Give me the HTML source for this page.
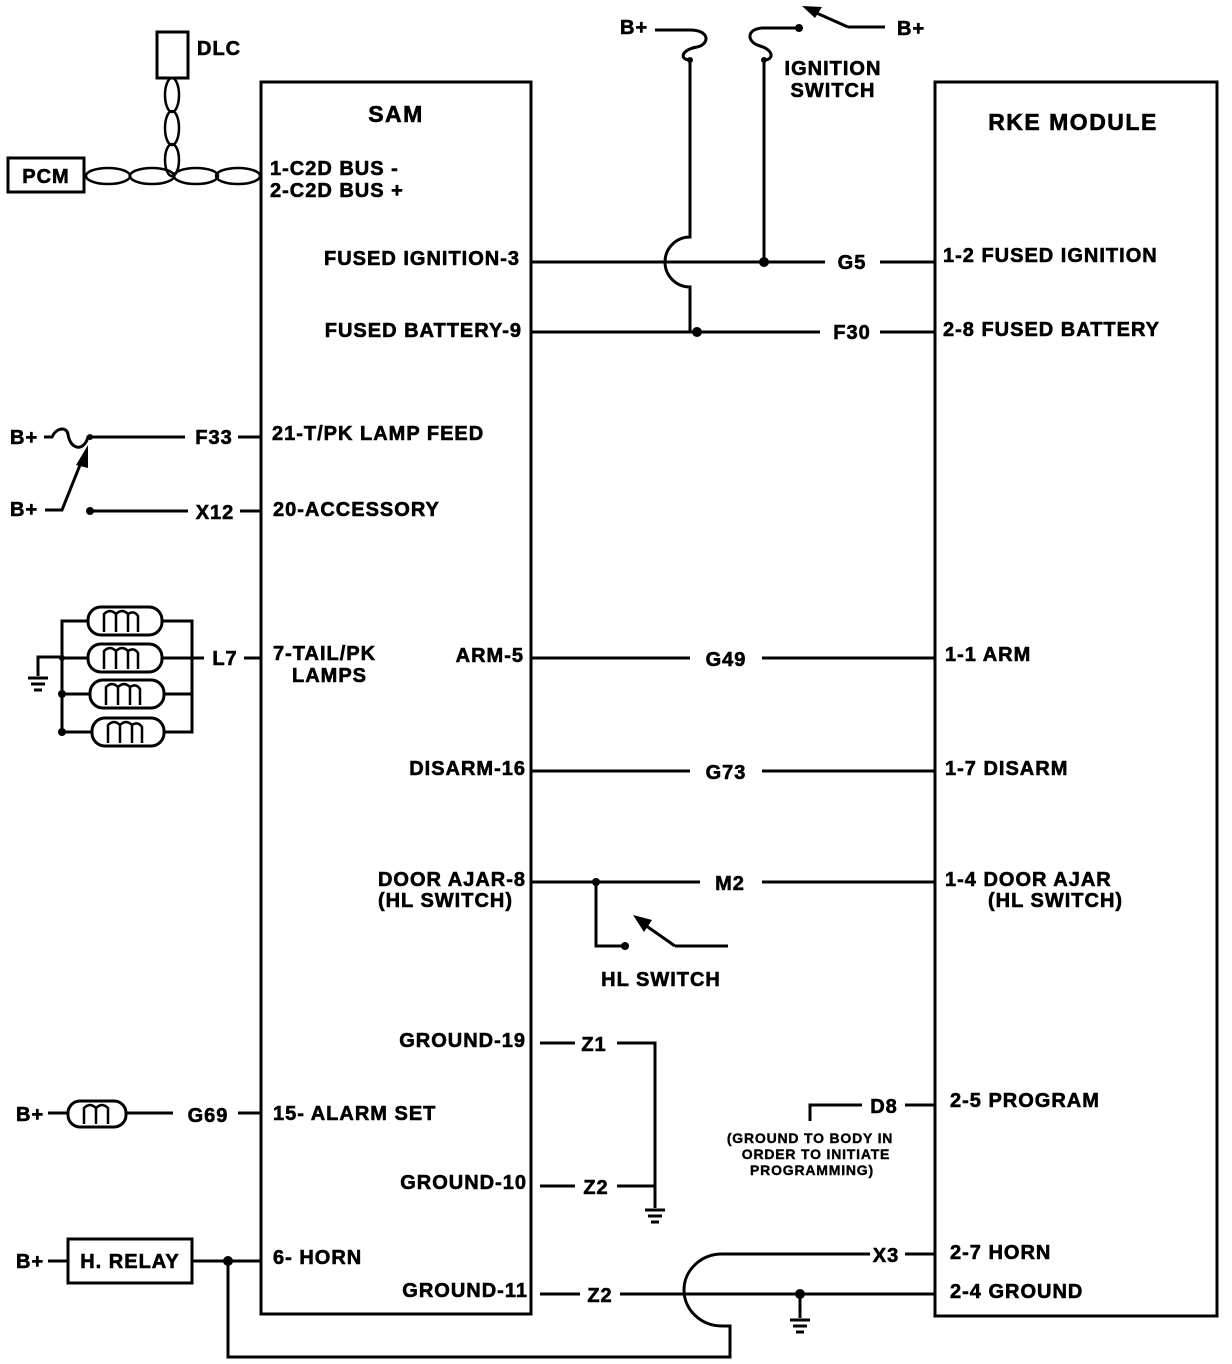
<!DOCTYPE html>
<html><head><meta charset="utf-8"><style>
html,body{margin:0;padding:0;background:#fff;}
svg{display:block;}
text{font-family:"Liberation Sans",sans-serif;font-weight:bold;font-size:20px;letter-spacing:1px;fill:#000;stroke:#000;stroke-width:0.6;}
.s{font-size:14px;letter-spacing:0.8px;stroke-width:0.4;}
.h{font-size:23px;letter-spacing:1.5px;}
.l{fill:none;stroke:#000;stroke-width:3;}
.t{fill:none;stroke:#000;stroke-width:2.5;}
</style></head><body>
<svg width="1232" height="1364" viewBox="0 0 1232 1364" xmlns="http://www.w3.org/2000/svg">
<rect x="261" y="82" width="270" height="1232" class="l"/>
<rect x="935" y="82" width="282" height="1234" class="l"/>
<text class="h" x="396" y="122" text-anchor="middle">SAM</text>
<text class="h" x="1073" y="130" text-anchor="middle">RKE MODULE</text>

<rect x="157" y="32" width="31" height="46" class="l"/>
<text x="197" y="55">DLC</text>
<rect x="8" y="158" width="76" height="34" class="l"/>
<text x="46" y="183" text-anchor="middle">PCM</text>
<g class="t">
<ellipse cx="108" cy="176" rx="22" ry="8"/>
<ellipse cx="152" cy="176" rx="22" ry="8"/>
<ellipse cx="196" cy="176" rx="22" ry="8"/>
<ellipse cx="238" cy="176" rx="22" ry="8"/>
<ellipse cx="172" cy="95" rx="7" ry="17"/>
<ellipse cx="172" cy="128" rx="7" ry="17"/>
<ellipse cx="172" cy="160" rx="7" ry="16"/>
</g>
<text x="270" y="175">1-C2D BUS -</text>
<text x="270" y="197">2-C2D BUS +</text>

<text x="620" y="34">B+</text>
<path class="l" d="M655 30 L690 30 C710 30 710 44 697 47 C680 50 680 60 690 60 L690 237 A25 25 0 0 0 690 287 L690 332"/>
<circle cx="690" cy="60" r="3"/>
<path class="l" d="M799 28 L764 28 C746 28 746 42 760 46 C774 50 774 60 764 60 L764 262"/>
<circle cx="764" cy="60" r="3"/>
<circle cx="799" cy="28" r="4"/>
<path class="l" d="M848 27 L885 27 M848 27 L812 11"/>
<polygon points="802,6 822,7 815,18"/>
<text x="897" y="35">B+</text>
<text x="833" y="75" text-anchor="middle">IGNITION</text>
<text x="833" y="97" text-anchor="middle">SWITCH</text>

<text x="520" y="265" text-anchor="end">FUSED IGNITION-3</text>
<path class="l" d="M531 262 L825 262 M880 262 L935 262"/>
<circle cx="764" cy="262" r="5"/>
<text x="852" y="269" text-anchor="middle">G5</text>
<text x="522" y="337" text-anchor="end">FUSED BATTERY-9</text>
<path class="l" d="M531 332 L820 332 M880 332 L935 332"/>
<circle cx="697" cy="332" r="5"/>
<text x="852" y="339" text-anchor="middle">F30</text>
<text x="943" y="262">1-2 FUSED IGNITION</text>
<text x="943" y="336">2-8 FUSED BATTERY</text>

<text x="10" y="444">B+</text>
<path class="l" d="M44 437 L52 437 C56 428 66 426 68 434 C70 450 84 452 88 437 L185 437 M238 437 L262 437"/>
<circle cx="90" cy="437" r="3"/>
<text x="214" y="444" text-anchor="middle">F33</text>
<text x="272" y="440">21-T/PK LAMP FEED</text>
<text x="10" y="516">B+</text>
<path class="l" d="M45 510 L62 510 L82 460"/>
<polygon points="88,445 76,465 88,468"/>
<circle cx="90" cy="511" r="4"/>
<path class="l" d="M90 511 L188 511 M240 511 L262 511"/>
<text x="215" y="519" text-anchor="middle">X12</text>
<text x="273" y="516">20-ACCESSORY</text>

<g class="l">
<rect x="88" y="607" width="74" height="28" rx="13"/>
<rect x="88" y="644" width="74" height="28" rx="13"/>
<rect x="90" y="680" width="74" height="28" rx="13"/>
<rect x="92" y="718" width="72" height="28" rx="13"/>
</g>
<g class="t">
<path d="M104 632 L104 614 Q110 608 116 614 L116 632 M116 614 Q122 608 128 614 L128 632 M128 614 Q134 610 138 616 L138 632"/>
<path d="M104 669 L104 651 Q110 645 116 651 L116 669 M116 651 Q122 645 128 651 L128 669 M128 651 Q134 647 138 653 L138 669"/>
<path d="M106 705 L106 687 Q112 681 118 687 L118 705 M118 687 Q124 681 130 687 L130 705 M130 687 Q136 683 140 689 L140 705"/>
<path d="M108 743 L108 725 Q114 719 120 725 L120 743 M120 725 Q126 719 132 725 L132 743 M132 725 Q138 721 142 727 L142 743"/>
</g>
<path class="l" d="M88 621 L62 621 L62 732 L92 732 M62 658 L88 658 M62 694 L90 694 M162 621 L192 621 L192 732 L164 732 M162 658 L204 658 M164 694 L192 694 M244 658 L262 658 M62 657 L38 657 L38 676"/>
<circle cx="62" cy="694" r="4"/><circle cx="62" cy="732" r="4"/><circle cx="62" cy="658" r="3"/>
<path class="l" d="M28 678 L48 678 M31 684 L45 684 M34 690 L42 690"/>
<text x="225" y="665" text-anchor="middle">L7</text>
<text x="273" y="660">7-TAIL/PK</text>
<text x="292" y="682">LAMPS</text>

<text x="524" y="662" text-anchor="end">ARM-5</text>
<path class="l" d="M531 658 L690 658 M762 658 L935 658"/>
<text x="726" y="666" text-anchor="middle">G49</text>
<text x="945" y="661">1-1 ARM</text>
<text x="526" y="775" text-anchor="end">DISARM-16</text>
<path class="l" d="M531 771 L690 771 M762 771 L935 771"/>
<text x="726" y="779" text-anchor="middle">G73</text>
<text x="945" y="775">1-7 DISARM</text>

<text x="526" y="886" text-anchor="end">DOOR AJAR-8</text>
<text x="513" y="907" text-anchor="end">(HL SWITCH)</text>
<path class="l" d="M531 882 L700 882 M762 882 L935 882 M596 882 L596 946 L623 946 M675 946 L728 946 M675 946 L645 925"/>
<circle cx="596" cy="882" r="4"/><circle cx="625" cy="946" r="4"/>
<polygon points="633,915 652,920 644,932"/>
<text x="730" y="890" text-anchor="middle">M2</text>
<text x="945" y="886">1-4 DOOR AJAR</text>
<text x="988" y="907">(HL SWITCH)</text>
<text x="661" y="986" text-anchor="middle">HL SWITCH</text>

<text x="526" y="1047" text-anchor="end">GROUND-19</text>
<path class="l" d="M540 1043 L575 1043 M617 1043 L655 1043 L655 1208 M617 1186 L655 1186 M540 1186 L575 1186 M645 1210 L665 1210 M648 1216 L662 1216 M651 1222 L659 1222"/>
<text x="594" y="1051" text-anchor="middle">Z1</text>
<text x="527" y="1189" text-anchor="end">GROUND-10</text>
<text x="596" y="1194" text-anchor="middle">Z2</text>

<text x="16" y="1121">B+</text>
<path class="l" d="M48 1113 L68 1113 M126 1113 L173 1113 M238 1113 L262 1113"/>
<rect x="68" y="1101" width="58" height="26" rx="12" class="l"/>
<path class="t" d="M84 1124 L84 1108 Q90 1102 96 1108 L96 1124 M96 1108 Q102 1102 108 1108 L108 1124"/>
<text x="208" y="1122" text-anchor="middle">G69</text>
<text x="273" y="1120">15- ALARM SET</text>

<path class="l" d="M935 1105 L905 1105 M862 1105 L810 1105 L810 1121"/>
<text x="884" y="1113" text-anchor="middle">D8</text>
<text x="950" y="1107">2-5 PROGRAM</text>
<text class="s" x="810" y="1143" text-anchor="middle">(GROUND TO BODY IN</text>
<text class="s" x="816" y="1159" text-anchor="middle">ORDER TO INITIATE</text>
<text class="s" x="812" y="1175" text-anchor="middle">PROGRAMMING)</text>

<text x="16" y="1268">B+</text>
<rect x="68" y="1239" width="124" height="44" class="l"/>
<text x="130" y="1268" text-anchor="middle">H. RELAY</text>
<path class="l" d="M48 1261 L68 1261 M192 1261 L262 1261 M228 1261 L228 1357 L730 1357 L730 1326 L722 1326 A38 36 0 0 1 722 1254 L870 1254 M905 1254 L935 1254"/>
<circle cx="228" cy="1261" r="5"/>
<text x="273" y="1264">6- HORN</text>
<text x="886" y="1262" text-anchor="middle">X3</text>
<text x="950" y="1259">2-7 HORN</text>
<text x="528" y="1297" text-anchor="end">GROUND-11</text>
<path class="l" d="M540 1294 L580 1294 M620 1294 L935 1294 M800 1294 L800 1318 M790 1320 L810 1320 M793 1326 L807 1326 M796 1332 L804 1332"/>
<circle cx="800" cy="1294" r="5"/>
<text x="600" y="1302" text-anchor="middle">Z2</text>
<text x="950" y="1298">2-4 GROUND</text>
</svg>
</body></html>
